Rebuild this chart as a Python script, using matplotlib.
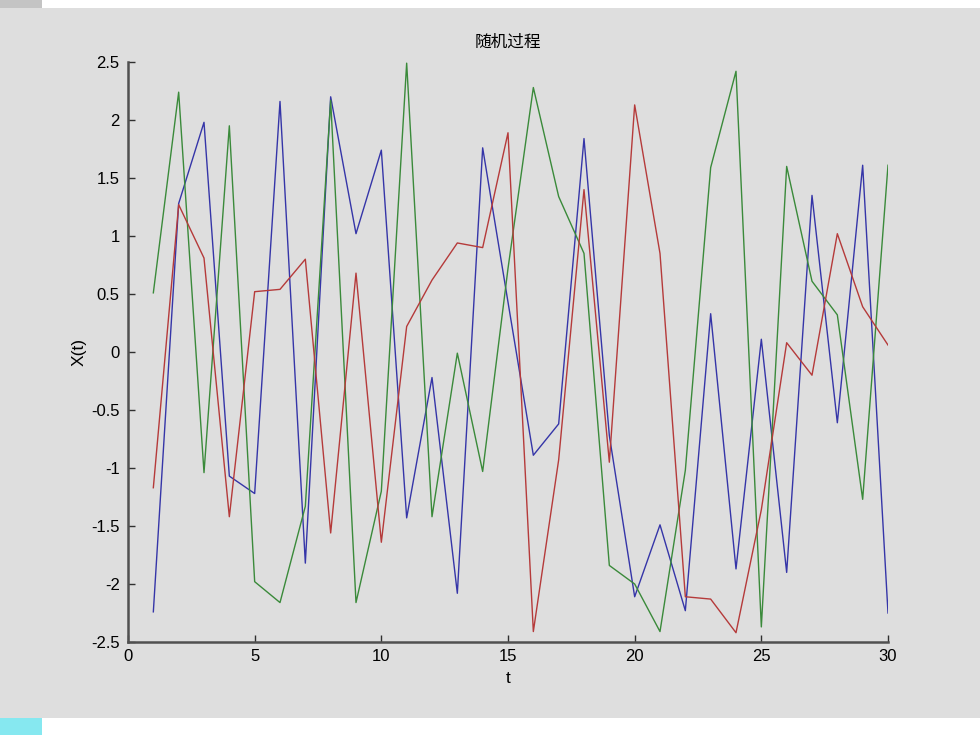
import matplotlib
matplotlib.use("Agg")
import matplotlib.pyplot as plt
from matplotlib.patches import Rectangle
import numpy as np

plt.rcParams['font.family'] = ['Liberation Sans', 'Noto Sans CJK SC', 'DejaVu Sans']

# Data
t = list(range(1, 31))
blue = [-2.24, 1.28, 1.98, -1.07, -1.22, 2.16, -1.82, 2.20, 1.02, 1.74,
        -1.43, -0.22, -2.08, 1.76, 0.43, -0.89, -0.62, 1.84, -0.72, -2.11,
        -1.49, -2.23, 0.33, -1.87, 0.11, -1.90, 1.35, -0.61, 1.61, -2.25]
green = [0.51, 2.24, -1.04, 1.95, -1.98, -2.16, -1.33, 2.17, -2.16, -1.20,
         2.49, -1.42, -0.01, -1.03, 0.72, 2.28, 1.34, 0.85, -1.84, -2.00,
         -2.41, -1.02, 1.59, 2.42, -2.37, 1.60, 0.61, 0.32, -1.27, 1.61]
red = [-1.17, 1.27, 0.81, -1.42, 0.52, 0.54, 0.80, -1.56, 0.68, -1.64,
       0.22, 0.62, 0.94, 0.90, 1.89, -2.41, -0.93, 1.40, -0.95, 2.13,
       0.85, -2.11, -2.13, -2.42, -1.36, 0.08, -0.20, 1.02, 0.39, 0.06]
series = [blue, green, red]
colors = ['#3535a8', '#3a8a3a', '#b53a3a']
xticks = [0, 5, 10, 15, 20, 25, 30]
yticks = [-2.5, -2, -1.5, -1, -0.5, 0, 0.5, 1, 1.5, 2, 2.5]
ytick_labels = ['-2.5', '-2', '-1.5', '-1', '-0.5', '0', '0.5', '1', '1.5', '2', '2.5']
title = '随机过程'
xlabel = 't'
ylabel = 'X(t)'

W, H = 980, 735
fig = plt.figure(figsize=(W / 100, H / 100), dpi=100, facecolor='white')

bg = '#dedede'
# slide-like background bands
fig.patches.append(Rectangle((0, 1 - 718 / H), 1, (718 - 8) / H, transform=fig.transFigure,
                             facecolor=bg, edgecolor='none', zorder=-10))
fig.patches.append(Rectangle((0, 1 - 8 / H), 42 / W, 8 / H, transform=fig.transFigure,
                             facecolor='#c4c4c4', edgecolor='none', zorder=-10))
fig.patches.append(Rectangle((0, 0), 42 / W, (H - 718) / H, transform=fig.transFigure,
                             facecolor='#86e8f0', edgecolor='none', zorder=-10))

ax = fig.add_axes([128 / W, 1 - 642 / H, (888 - 128) / W, (642 - 62) / H])
ax.set_facecolor(bg)

for s, c in zip(series, colors):
    ax.plot(t, s, color=c, linewidth=1.0)

ax.set_xlim(0, 30)
ax.set_ylim(-2.5, 2.5)
ax.set_xticks(xticks)
ax.set_xticklabels([str(v) for v in xticks])
ax.set_yticks(yticks)
ax.set_yticklabels(ytick_labels)

for side in ['top', 'right']:
    ax.spines[side].set_visible(False)
for side in ['left', 'bottom']:
    ax.spines[side].set_color('#505050')
    ax.spines[side].set_linewidth(1.8)

ax.tick_params(direction='in', length=5, width=1.0, color='#303030',
               labelsize=12, labelcolor='black')
ax.tick_params(axis='x', pad=5)
ax.tick_params(axis='y', pad=6)

ax.set_title(title, fontsize=12, family=['Noto Sans CJK SC', 'DejaVu Sans'], pad=11)
ax.set_xlabel(xlabel, fontsize=12.5, labelpad=5)
ax.set_ylabel(ylabel, fontsize=12.5, labelpad=3)

fig.savefig('out.png', dpi=100, facecolor='white')
